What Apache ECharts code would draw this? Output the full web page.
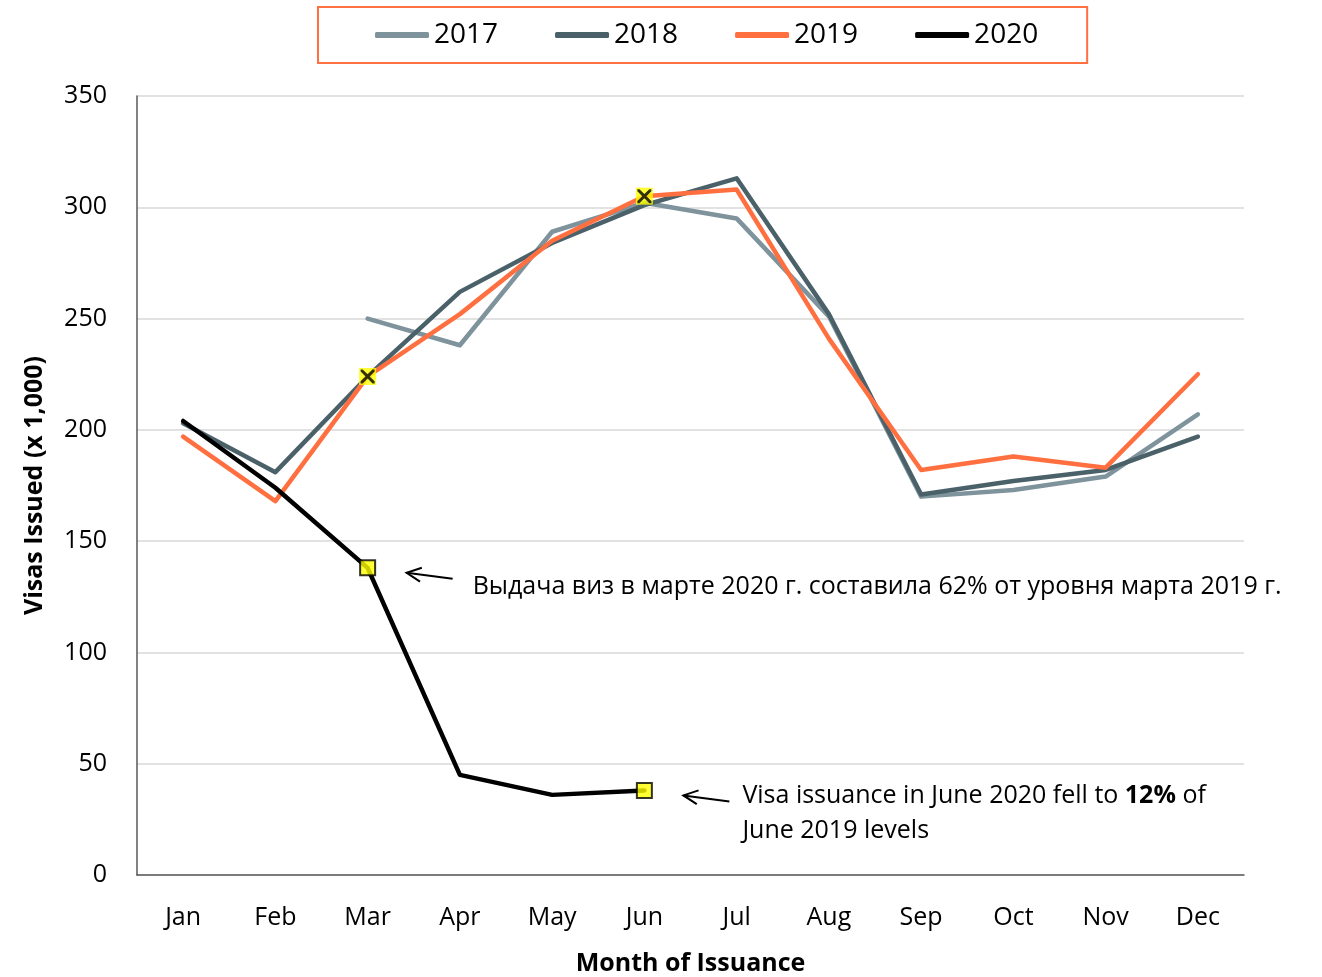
<!DOCTYPE html>
<html lang="en">
<head>
<meta charset="UTF-8">
<title>Visas Issued</title>
<script src="https://cdn.jsdelivr.net/npm/echarts@6/dist/echarts.min.js"></script>
<style>
	html,body{margin:0;width:100%;height:100%;background:#fff;}
	#chart{width:1322px;height:977px;}
</style>
</head>
<body>
<div id="chart"></div>
<script>
	var months = ['Jan', 'Feb', 'Mar', 'Apr', 'May', 'Jun', 'Jul', 'Aug', 'Sep', 'Oct', 'Nov', 'Dec'];
	var v2017 = [null, null, 250, 238, 289, 302, 295, 251, 170, 173, 179, 207];
	var v2018 = [203, 181, 224, 262, 284, 301, 313, 252, 171, 177, 182, 197];
	var v2019 = [197, 168, 224, 252, 285, 305, 308, 241, 182, 188, 183, 225];
	var v2020 = [204, 174, 138, 45, 36, 38];
	var crossMonths = [2, 5];   // 2019 points with X marker
	var boxMonths = [2, 5];     // 2020 points with yellow square

	var font = '"Open Sans", "Noto Sans", sans-serif';
	var xPath = 'path://M0,0L3,0L10,7L17,0L20,0L20,3L13,10L20,17L20,20L17,20L10,13L3,20L0,20L0,17L7,10L0,3Z';

	var myChart = echarts.init(document.getElementById('chart'));

	function lineSeries(name, data, color) {
		return {
			name: name,
			type: 'line',
			data: data,
			showSymbol: false,
			symbol: 'none',
			connectNulls: false,
			lineStyle: { width: 4.5, color: color, cap: 'round', join: 'round' },
			itemStyle: { color: color },
			emphasis: { disabled: true },
			z: 2
		};
	}

	var s2020 = lineSeries('2020', v2020, '#000000');
	s2020.z = 3;

	var options = {
		animation: false,
		textStyle: { fontFamily: font },
		legend: {
			data: ['2017', '2018', '2019', '2020'],
			top: 7,
			left: 318,
			padding: [14, 49, 14, 57],
			borderColor: '#ff7043',
			borderWidth: 2,
			itemGap: 57,
			itemWidth: 54,
			itemHeight: 6,
			icon: 'roundRect',
			textStyle: {
				fontFamily: font,
				fontSize: 28,
				color: '#000'
			}
		},
		grid: { left: 137, right: 78, top: 96, bottom: 102, outerBoundsMode: 'none', containLabel: false },
		xAxis: {
			type: 'category',
			data: months,
			boundaryGap: true,
			name: 'Month of Issuance',
			nameLocation: 'middle',
			nameGap: 76,
			nameTextStyle: { fontSize: 25, fontWeight: 'bold', color: '#000' },
			axisLine: { lineStyle: { color: '#595959', width: 1.5 } },
			axisTick: { show: false },
			axisLabel: { fontSize: 25, color: '#000', margin: 30 }
		},
		yAxis: {
			type: 'value',
			min: 0,
			max: 350,
			interval: 50,
			name: 'Visas Issued (x 1,000)',
			nameLocation: 'middle',
			nameGap: 90,
			nameRotate: 90,
			nameTextStyle: { fontSize: 25, fontWeight: 'bold', color: '#000' },
			axisLine: { show: true, lineStyle: { color: '#595959', width: 1.5 } },
			axisTick: { show: false },
			axisLabel: { fontSize: 25, color: '#000', margin: 30 },
			splitLine: { lineStyle: { color: '#d9d9d9', width: 1.5 } }
		},
		series: [
			lineSeries('2017', v2017, '#7e939c'),
			lineSeries('2018', v2018, '#4b616a'),
			lineSeries('2019', v2019, '#ff6f40'),
			s2020,
			{
				name: 'cross-box',
				type: 'scatter',
				symbol: 'rect',
				symbolSize: 17,
				itemStyle: { color: '#ffff00' },
				data: crossMonths.map(function(i) { return [i, v2019[i]]; }),
				z: 4,
				silent: true
			},
			{
				name: 'cross',
				type: 'scatter',
				symbol: xPath,
				symbolSize: 14,
				itemStyle: { color: '#000' },
				data: crossMonths.map(function(i) { return [i, v2019[i]]; }),
				z: 5,
				silent: true
			},
			{
				name: 'box',
				type: 'scatter',
				symbol: 'rect',
				symbolSize: 15,
				itemStyle: { color: '#ffff00', borderColor: '#000', borderWidth: 2 },
				data: boxMonths.map(function(i) { return [i, v2020[i]]; }),
				z: 5,
				silent: true
			}
		]
	};
	myChart.setOption(options);

	// annotations placed relative to the highlighted 2020 points
	function arrow(p) {
		var tip = [p[0] + 39, p[1] + 5];
		var tail = [tip[0] + 46, tip[1] + 6];
		var ang = Math.atan2(tail[1] - tip[1], tail[0] - tip[0]);
		var h = 16, spread = 0.45;
		var a1 = [tip[0] + h * Math.cos(ang - spread), tip[1] + h * Math.sin(ang - spread)];
		var a2 = [tip[0] + h * Math.cos(ang + spread), tip[1] + h * Math.sin(ang + spread)];
		return [
			{ type: 'polyline', shape: { points: [tail, tip] }, style: { stroke: '#000', lineWidth: 2, fill: null } },
			{ type: 'polyline', shape: { points: [a1, tip, a2] }, style: { stroke: '#000', lineWidth: 2, fill: null } }
		];
	}

	var pMar = myChart.convertToPixel({ seriesIndex: 3 }, [2, v2020[2]]);
	var pJun = myChart.convertToPixel({ seriesIndex: 3 }, [5, v2020[5]]);

	var elements = [].concat(arrow(pMar), arrow(pJun));
	elements.push({
		type: 'text',
		x: pMar[0] + 105,
		y: pMar[1] + 19,
		style: {
			text: 'Выдача виз в марте 2020 г. составила 62% от уровня марта 2019 г.',
			font: '25px ' + font,
			fill: '#000',
			verticalAlign: 'middle'
		}
	});
	elements.push({
		type: 'text',
		x: pJun[0] + 98,
		y: pJun[1] - 12,
		style: {
			text: 'Visa issuance in June 2020 fell to {b|12%} of\nJune 2019 levels',
			font: '25px ' + font,
			fill: '#000',
			lineHeight: 35,
			verticalAlign: 'top',
			rich: {
				b: { fontWeight: 'bold', fontSize: 25, fontFamily: font }
			}
		}
	});
	myChart.setOption({ graphic: elements });
</script>
</body>
</html>
